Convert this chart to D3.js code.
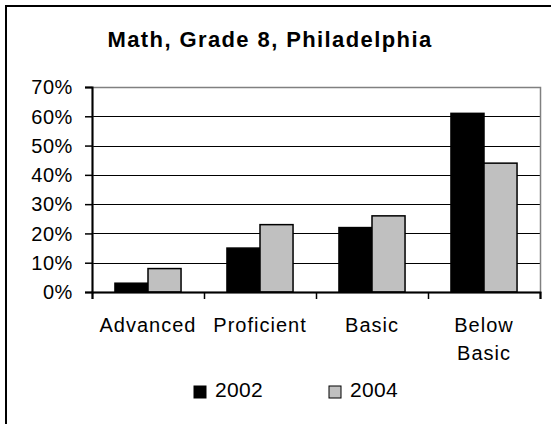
<!DOCTYPE html>
<html>
<head>
<meta charset="utf-8">
<script src="https://cdn.jsdelivr.net/npm/d3@7"></script>
<style>
  body { margin: 0; background: #fff; }
  text { font-family: "Liberation Sans", Arial, sans-serif; fill: #000; }
</style>
</head>
<body>
<div id="chart"></div>
<script>
const categories = ["Advanced", "Proficient", "Basic", "Below Basic"];
const series = ["2002", "2004"];
const values2002 = [0.03, 0.15, 0.22, 0.61];
const values2004 = [0.08, 0.23, 0.26, 0.44];
const yTicks = [0, 0.1, 0.2, 0.3, 0.4, 0.5, 0.6, 0.7];
const colors = ["#000000", "#c0c0c0"];

const W = 551, H = 424;
const plot = { left: 92, right: 540, top: 87, bottom: 292 };

const svg = d3.select("#chart").append("svg")
    .attr("width", W)
    .attr("height", H);

svg.append("rect")
    .attr("width", W).attr("height", H)
    .attr("fill", "#fff");

// outer chart border (runs off the right / bottom edge)
svg.append("rect")
    .attr("x", 6).attr("y", 6)
    .attr("width", 700).attr("height", 600)
    .attr("fill", "none")
    .attr("stroke", "#000")
    .attr("stroke-width", 2);

svg.append("text")
    .attr("x", 270).attr("y", 47)
    .attr("text-anchor", "middle")
    .attr("font-weight", "bold")
    .attr("font-size", "22px")
    .attr("letter-spacing", "1.4px")
    .text("Math, Grade 8, Philadelphia");

const y = d3.scaleLinear().domain([0, 0.7]).range([plot.bottom, plot.top]);
const x0 = d3.scaleBand().domain(categories)
    .range([plot.left, plot.right])
    .paddingInner(0.41).paddingOuter(0.205);
const x1 = d3.scaleBand().domain(series).range([0, x0.bandwidth()]);

// gridlines
svg.append("g").selectAll("line")
    .data(yTicks.slice(1, -1))
    .enter().append("line")
      .attr("x1", plot.left).attr("x2", plot.right)
      .attr("y1", d => Math.round(y(d)) + 0.5)
      .attr("y2", d => Math.round(y(d)) + 0.5)
      .attr("stroke", "#000")
      .attr("stroke-width", 1);

// plot area border (top / right grey)
svg.append("rect")
    .attr("x", plot.left + 0.5).attr("y", plot.top + 0.5)
    .attr("width", plot.right - plot.left)
    .attr("height", plot.bottom - plot.top)
    .attr("fill", "none")
    .attr("stroke", "#808080")
    .attr("stroke-width", 1.5);

// bars
const rows = categories.map((c, i) => ({ cat: c, vals: [values2002[i], values2004[i]] }));
const groups = svg.append("g").selectAll("g")
    .data(rows)
    .enter().append("g")
      .attr("transform", d => "translate(" + x0(d.cat) + ",0)");
groups.selectAll("rect")
    .data(d => d.vals.map((v, j) => ({ s: series[j], v: v, j: j })))
    .enter().append("rect")
      .attr("x", d => x1(d.s))
      .attr("width", x1.bandwidth())
      .attr("y", d => y(d.v))
      .attr("height", d => y(0) - y(d.v))
      .attr("fill", d => colors[d.j])
      .attr("stroke", "#000")
      .attr("stroke-width", 1.5);

// y axis
const yAxis = svg.append("g")
    .attr("transform", "translate(" + plot.left + ",0)")
    .call(d3.axisLeft(y).tickValues(yTicks).tickSize(7).tickPadding(12)
      .tickFormat(d3.format(".0%")));
yAxis.select(".domain").attr("stroke", "#000").attr("stroke-width", 2);
yAxis.selectAll(".tick line").attr("stroke", "#000").attr("stroke-width", 1.5);
yAxis.selectAll("text")
    .attr("font-size", "20px")
    .attr("font-family", "Liberation Sans, Arial, sans-serif")
    .attr("letter-spacing", "0.6px")
    .attr("dy", "0.34em");

// x axis: ticks between categories
const xEdges = d3.scaleLinear().domain([0, categories.length]).range([plot.left, plot.right]);
const xAxis = svg.append("g")
    .attr("transform", "translate(0," + plot.bottom + ")")
    .call(d3.axisBottom(xEdges).ticks(categories.length).tickSize(7).tickFormat(""));
xAxis.select(".domain").attr("stroke", "#000").attr("stroke-width", 2);
xAxis.selectAll(".tick line").attr("stroke", "#000").attr("stroke-width", 1.5);

// category labels
const labels = svg.append("g").selectAll("text")
    .data(categories)
    .enter().append("text")
      .attr("x", d => x0(d) + x0.bandwidth() / 2)
      .attr("y", 332)
      .attr("text-anchor", "middle")
      .attr("font-size", "20px")
      .attr("letter-spacing", "1px");
labels.each(function(d) {
  const words = d === "Below Basic" ? ["Below", "Basic"] : [d];
  const t = d3.select(this);
  words.forEach((w, i) => {
    t.append("tspan")
      .attr("x", x0(d) + x0.bandwidth() / 2)
      .attr("dy", i === 0 ? 0 : 28)
      .text(w);
  });
});

// legend
const legendX = [194, 329];
const legend = svg.append("g").selectAll("g")
    .data(series)
    .enter().append("g")
      .attr("transform", (d, i) => "translate(" + legendX[i] + ",386)");
legend.append("rect")
    .attr("width", 12).attr("height", 12)
    .attr("fill", (d, i) => colors[i])
    .attr("stroke", "#000")
    .attr("stroke-width", 1);
legend.append("text")
    .attr("x", 21).attr("y", 11)
    .attr("font-size", "21px")
    .attr("letter-spacing", "0.3px")
    .text(d => d);
</script>
</body>
</html>
